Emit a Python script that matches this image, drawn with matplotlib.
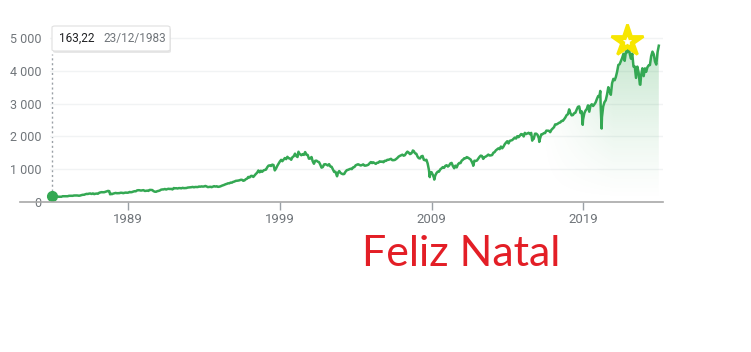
import matplotlib
matplotlib.use('Agg')
import matplotlib.pyplot as plt
import matplotlib.transforms as mtransforms
from matplotlib.patches import FancyBboxPatch
from matplotlib.lines import Line2D
import numpy as np
import pandas as pd

# first point (tooltip)
start_date = '1983-12-23'
start_value = 163.22

monthly_close = [
    163.4, 157.1, 159.2, 160.1, 150.6, 153.2, 150.7, 166.7, 166.1, 166.1, 163.6, 167.2,
    179.6, 181.2, 180.7, 179.8, 189.6, 191.9, 190.9, 188.6, 182.1, 189.8, 202.2, 211.3,
    211.8, 226.9, 238.9, 235.5, 247.4, 250.8, 236.1, 252.9, 231.3, 243.9, 249.2, 242.2,
    274.1, 284.2, 291.7, 288.4, 290.1, 304.0, 318.7, 329.8, 321.8, 251.8, 230.3, 247.1,
    257.1, 267.8, 258.9, 261.3, 262.2, 273.5, 272.0, 261.5, 271.9, 279.0, 273.7, 277.7,
    297.5, 288.9, 294.9, 309.6, 320.5, 318.0, 346.1, 351.5, 349.2, 340.4, 346.0, 353.4,
    329.1, 331.9, 339.9, 330.8, 361.2, 358.0, 356.2, 322.6, 306.1, 304.0, 322.2, 330.2,
    343.9, 367.1, 375.2, 375.3, 389.8, 371.2, 387.8, 395.4, 387.9, 392.5, 375.2, 417.1,
    408.8, 412.7, 403.7, 415.0, 415.4, 408.1, 424.2, 414.0, 417.8, 418.7, 431.4, 435.7,
    438.8, 443.4, 451.7, 440.2, 450.2, 450.5, 448.1, 463.6, 458.9, 467.8, 461.8, 466.5,
    481.6, 467.1, 445.8, 450.9, 456.5, 444.3, 458.3, 475.5, 462.7, 472.4, 453.7, 459.3,
    470.4, 487.4, 500.7, 514.7, 533.4, 544.8, 562.1, 561.9, 584.4, 581.5, 605.4, 615.9,
    636.0, 640.4, 645.5, 654.2, 669.1, 670.6, 640.0, 652.0, 687.3, 705.3, 757.0, 740.7,
    786.2, 790.8, 757.1, 801.3, 848.3, 885.1, 954.3, 899.5, 947.3, 914.6, 955.4, 970.4,
    980.3, 1049.3, 1101.8, 1111.8, 1090.8, 1133.8, 1120.7, 957.3, 1017.0, 1098.7, 1163.6, 1229.2,
    1279.6, 1238.3, 1286.4, 1335.2, 1301.8, 1372.7, 1328.7, 1320.4, 1282.7, 1362.9, 1388.9, 1469.3,
    1394.5, 1366.4, 1498.6, 1452.4, 1420.6, 1454.6, 1430.8, 1517.7, 1436.5, 1429.4, 1315.2, 1320.3,
    1366.0, 1239.9, 1160.3, 1249.5, 1255.8, 1224.4, 1211.2, 1133.6, 1040.9, 1059.8, 1139.5, 1148.1,
    1130.2, 1106.7, 1147.4, 1076.9, 1067.1, 989.8, 911.6, 916.1, 815.3, 885.8, 936.3, 879.8,
    855.7, 841.2, 848.2, 916.9, 963.6, 974.5, 990.3, 1008.0, 996.0, 1050.7, 1058.2, 1111.9,
    1131.1, 1144.9, 1126.2, 1107.3, 1120.7, 1140.8, 1101.7, 1104.2, 1114.6, 1130.2, 1173.8, 1211.9,
    1181.3, 1203.6, 1180.6, 1156.9, 1191.5, 1191.3, 1234.2, 1220.3, 1228.8, 1207.0, 1249.5, 1248.3,
    1280.1, 1280.7, 1294.9, 1310.6, 1270.1, 1270.2, 1276.7, 1303.8, 1335.9, 1377.9, 1400.6, 1418.3,
    1438.2, 1406.8, 1420.9, 1482.4, 1530.6, 1503.4, 1455.3, 1474.0, 1526.8, 1549.4, 1481.1, 1468.4,
    1378.6, 1330.6, 1322.7, 1385.6, 1400.4, 1280.0, 1267.4, 1282.8, 1166.4, 968.8, 896.2, 903.3,
    825.9, 735.1, 797.9, 872.8, 919.1, 919.3, 987.5, 1020.6, 1057.1, 1036.2, 1095.6, 1115.1,
    1073.9, 1104.5, 1169.4, 1186.7, 1089.4, 1030.7, 1101.6, 1049.3, 1141.2, 1183.3, 1180.6, 1257.6,
    1286.1, 1327.2, 1325.8, 1363.6, 1345.2, 1320.6, 1292.3, 1218.9, 1131.4, 1253.3, 1247.0, 1257.6,
    1312.4, 1365.7, 1408.5, 1397.9, 1310.3, 1362.2, 1379.3, 1406.6, 1440.7, 1412.2, 1416.2, 1426.2,
    1498.1, 1514.7, 1569.2, 1597.6, 1630.7, 1606.3, 1685.7, 1633.0, 1681.6, 1756.5, 1805.8, 1848.4,
    1782.6, 1859.5, 1872.3, 1884.0, 1923.6, 1960.2, 1930.7, 2003.4, 1972.3, 2018.1, 2067.6, 2058.9,
    1995.0, 2104.5, 2067.9, 2085.5, 2107.4, 2063.1, 2103.8, 1972.2, 1920.0, 2079.4, 2080.4, 2043.9,
    1940.2, 1932.2, 2059.7, 2065.3, 2097.0, 2098.9, 2173.6, 2171.0, 2168.3, 2126.2, 2199.0, 2238.8,
    2278.9, 2363.6, 2362.7, 2384.2, 2411.8, 2423.4, 2470.3, 2471.7, 2519.4, 2575.3, 2647.6, 2673.6,
    2823.8, 2713.8, 2640.9, 2648.1, 2705.3, 2718.4, 2816.3, 2901.5, 2914.0, 2711.7, 2760.2, 2506.9,
    2704.1, 2784.5, 2834.4, 2945.8, 2752.1, 2941.8, 2980.4, 2926.5, 2976.7, 3037.6, 3141.0, 3230.8,
    3225.5, 2954.2, 2584.6, 2912.4, 3044.3, 3100.3, 3271.1, 3500.3, 3363.0, 3270.0, 3621.6, 3756.1,
    3714.2, 3811.2, 3972.9, 4181.2, 4204.1, 4297.5, 4395.3, 4522.7, 4307.5, 4605.4, 4567.0, 4766.2,
    4515.6, 4373.9, 4530.4, 4131.9, 4132.2, 3785.4, 4130.3, 3955.0, 3585.6, 3872.0, 4080.1, 3839.5,
    4076.6, 3970.2, 4109.3, 4169.5, 4179.8, 4450.4, 4589.0, 4507.7, 4288.1, 4193.8, 4567.8, 4769.8,
]

# intramonth highs and lows visible on the chart
extreme_dates = ['1987-10-19', '2000-03-24', '2002-10-09', '2007-10-09', '2008-11-20',
                 '2009-03-09', '2010-07-02', '2011-10-03', '2015-08-25', '2016-02-11',
                 '2018-12-24', '2020-02-19', '2020-03-23', '2022-01-03', '2022-10-12']
extreme_values = [224.8, 1527.5, 776.8, 1565.2, 752.4,
                  676.5, 1022.6, 1099.2, 1867.6, 1829.1,
                  2351.1, 3386.2, 2237.4, 4796.6, 3577.0]

year_ticks = [1989, 1999, 2009, 2019]
y_ticks = [0, 1000, 2000, 3000, 4000, 5000]

# assemble the series
dates = [pd.Timestamp(start_date)] + list(pd.date_range('1984-01-31', periods=len(monthly_close), freq='ME')) \
    + [pd.Timestamp(d) for d in extreme_dates]
values = [start_value] + monthly_close + extreme_values
s = pd.Series(values, index=pd.DatetimeIndex(dates)).sort_index()

green = '#34a853'
grey = '#70757a'

W, H = 751, 352
fig = plt.figure(figsize=(W / 100, H / 100), dpi=100)
fig.set_facecolor('white')
ax = fig.add_axes([50 / W, (H - 201.7) / H, 613 / W, (201.7 - 27) / H])

ax.plot(s.index, s.values, color=green, lw=1.8, solid_joinstyle='round', zorder=3)

# gradient fill under the recent part of the line
tail = s[s.index >= '2016-01-01']
poly = ax.fill_between(tail.index, 0, tail.values, color='none', lw=0)
x0 = matplotlib.dates.date2num(tail.index[0])
x1 = matplotlib.dates.date2num(tail.index[-1])
ny, nx = 200, 200
gx = np.linspace(0, 1, nx)
gy = np.linspace(0, 1, ny)[:, None]
alpha = np.clip(gx * 1.6, 0, 1) ** 1.2 * (gy ** 1.3) * 0.3
rgba = np.zeros((ny, nx, 4))
rgba[..., :3] = matplotlib.colors.to_rgb(green)
rgba[..., 3] = alpha
img = ax.imshow(rgba, extent=[x0, x1, 0, 5000], origin='lower', aspect='auto', zorder=2)
img.set_clip_path(poly.get_paths()[0], transform=ax.transData)

ax.set_xlim(pd.Timestamp('1983-11-01'), pd.Timestamp('2024-04-10'))
ax.set_ylim(0, 5342)

# start dot + dotted line up to tooltip
ax.plot([s.index[0]], [s.values[0]], 'o', color=green, ms=7, zorder=4, clip_on=False)
ax.plot([s.index[0], s.index[0]], [s.values[0], 4530], color='#9aa0a6', lw=1,
        ls=(0, (1.5, 2)), zorder=1)

# star on the peak
peak_date = s.idxmax()
peak_val = s.max()
up = mtransforms.offset_copy(ax.transData, fig=fig, x=-1, y=3, units='points')
ax.plot([peak_date], [peak_val], marker='*', ms=24, color='#f7e600', mec='#f7e600',
        mew=2, transform=up, zorder=5, clip_on=False)
ax.plot([peak_date], [peak_val], marker='*', ms=6, color='white', mec='white',
        mew=0.5, transform=up, zorder=6, clip_on=False)

# axes styling
for sp in ax.spines.values():
    sp.set_visible(False)
ax.set_yticks(y_ticks)
ax.set_yticklabels(['{:,}'.format(v).replace(',', ' ') for v in y_ticks])
ax.tick_params(axis='y', length=0, pad=6, labelsize=9, labelcolor=grey)
ax.grid(axis='y', color='#f1f3f4', lw=1)
ax.set_xticks([pd.Timestamp(f'{y}-01-01') for y in year_ticks])
ax.set_xticklabels([str(y) for y in year_ticks])
ax.tick_params(axis='x', length=6, width=1, color='#9aa0a6', pad=2,
               labelsize=9.5, labelcolor=grey)
for lab in ax.get_xticklabels() + ax.get_yticklabels():
    lab.set_fontfamily('Roboto')

# bottom axis line reaching under the y labels
fig.add_artist(Line2D([20 / W, 663 / W], [(H - 201.7) / H] * 2, color='#a8a8a8', lw=1.2))

# tooltip box
box = FancyBboxPatch((52 / W, (H - 51) / H), 118 / W, 25 / H,
                     boxstyle='round,pad=0,rounding_size=0.004', transform=fig.transFigure,
                     fc='white', ec='#e0e0e0', lw=0.8, zorder=10)
shadow = FancyBboxPatch((53 / W, (H - 53) / H), 118 / W, 25 / H,
                        boxstyle='round,pad=0,rounding_size=0.004', transform=fig.transFigure,
                        fc='#d8d8d8', ec='none', alpha=0.6, zorder=9)
fig.add_artist(shadow)
fig.add_artist(box)
fig.text(59 / W, (H - 38.5) / H, '163,22', fontsize=8.5, color='#202124',
         family='Roboto', va='center', zorder=11)
fig.text(103 / W, (H - 38.5) / H, '23/12/1983', fontsize=8.5, color=grey,
         family='Roboto', va='center', zorder=11)

fig.text(362 / W, (H - 266) / H, 'Feliz Natal', fontsize=31, color='#e31e26',
         family='Lato', ha='left', va='baseline')

fig.savefig('out.png', dpi=100)
